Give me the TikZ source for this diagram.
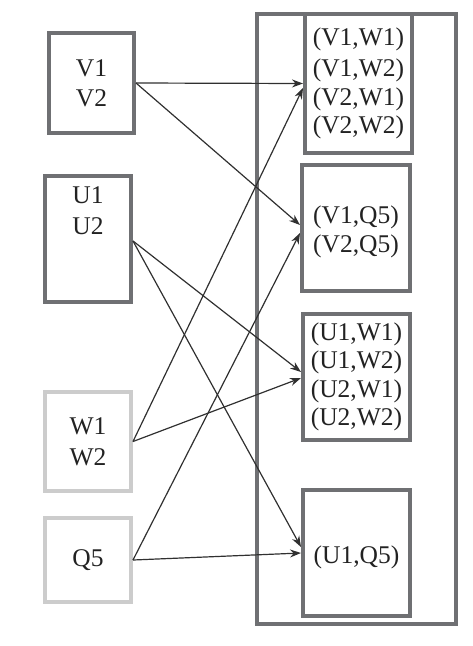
\documentclass[tikz,border=0pt]{standalone}
\usepackage{fontspec}
\setmainfont{Liberation Serif}
\usetikzlibrary{arrows.meta,calc}
\definecolor{boxdark}{HTML}{6F7073}
\definecolor{boxlight}{HTML}{CCCCCC}
\definecolor{linec}{HTML}{303030}
\definecolor{txtc}{HTML}{222222}
\begin{document}
\begin{tikzpicture}[x=1pt,y=-1pt,
  lbl/.style={font=\fontsize{25.5}{28.5}\selectfont, text=txtc, align=center},
  dbox/.style={draw=boxdark, line width=4pt, inner sep=0pt, lbl},
  lbox/.style={dbox, draw=boxlight},
  txt/.style={lbl, inner sep=0pt},
  conn/.style={draw=linec, line width=1.2pt, -{Stealth[length=11pt,width=8pt]}}]
\useasboundingbox (0,0) rectangle (473,646);
% outer container
\node[draw=boxdark, line width=4pt, inner sep=0pt, minimum width=199pt, minimum height=610pt] (outer) at (356.5,319) {};
% left boxes
\node[dbox, minimum width=85pt, minimum height=100pt, font=\fontsize{25.5}{30}\selectfont] (v) at (91.5,83) {V1\\V2};
\node[dbox, minimum width=86pt, minimum height=126pt] (u) at (88,239) {};
\node[txt, font=\fontsize{25.5}{31}\selectfont] (ut) at (88,211) {U1\\U2};
\node[lbox, minimum width=86pt, minimum height=99pt, font=\fontsize{25.5}{31}\selectfont] (w) at (88,441.5) {W1\\W2};
\node[lbox, minimum width=86pt, minimum height=84pt] (q) at (88,560) {Q5};
% right boxes
\node[dbox, minimum width=107pt, minimum height=139pt] (b1) at (358.5,83.5) {(V1,W1)\\[3pt](V1,W2)\\(V2,W1)\\(V2,W2)};
\node[dbox, minimum width=108pt, minimum height=126pt] (b2) at (356,228) {};
\node[txt] (b2t) at (356,232) {(V1,Q5)\\(V2,Q5)};
\node[dbox, minimum width=107pt, minimum height=126pt] (b3) at (356.5,377) {(U1,W1)\\(U1,W2)\\(U2,W1)\\(U2,W2)};
\node[dbox, minimum width=107pt, minimum height=126pt] (b4) at (356.5,553) {};
\node[txt] (b4t) at (356.5,557) {(U1,Q5)};
% connectors
\draw[conn] (v.east) -- ([yshift=0pt]b1.west);
\draw[conn] (v.east) -- ([yshift=3pt]b2.west);
\draw[conn] ([yshift=-2pt]u.east) -- ([yshift=5pt]b3.west);
\draw[conn] ([yshift=-2pt]u.east) -- ([yshift=6pt]b4.west);
\draw[conn] (w.east) -- ([yshift=-4.5pt]b1.west);
\draw[conn] (w.east) -- ([yshift=-1pt]b3.west);
\draw[conn] (q.east) -- ([yshift=-5pt]b2.west);
\draw[conn] (q.east) -- ([yshift=0pt]b4.west);
\end{tikzpicture}
\end{document}
